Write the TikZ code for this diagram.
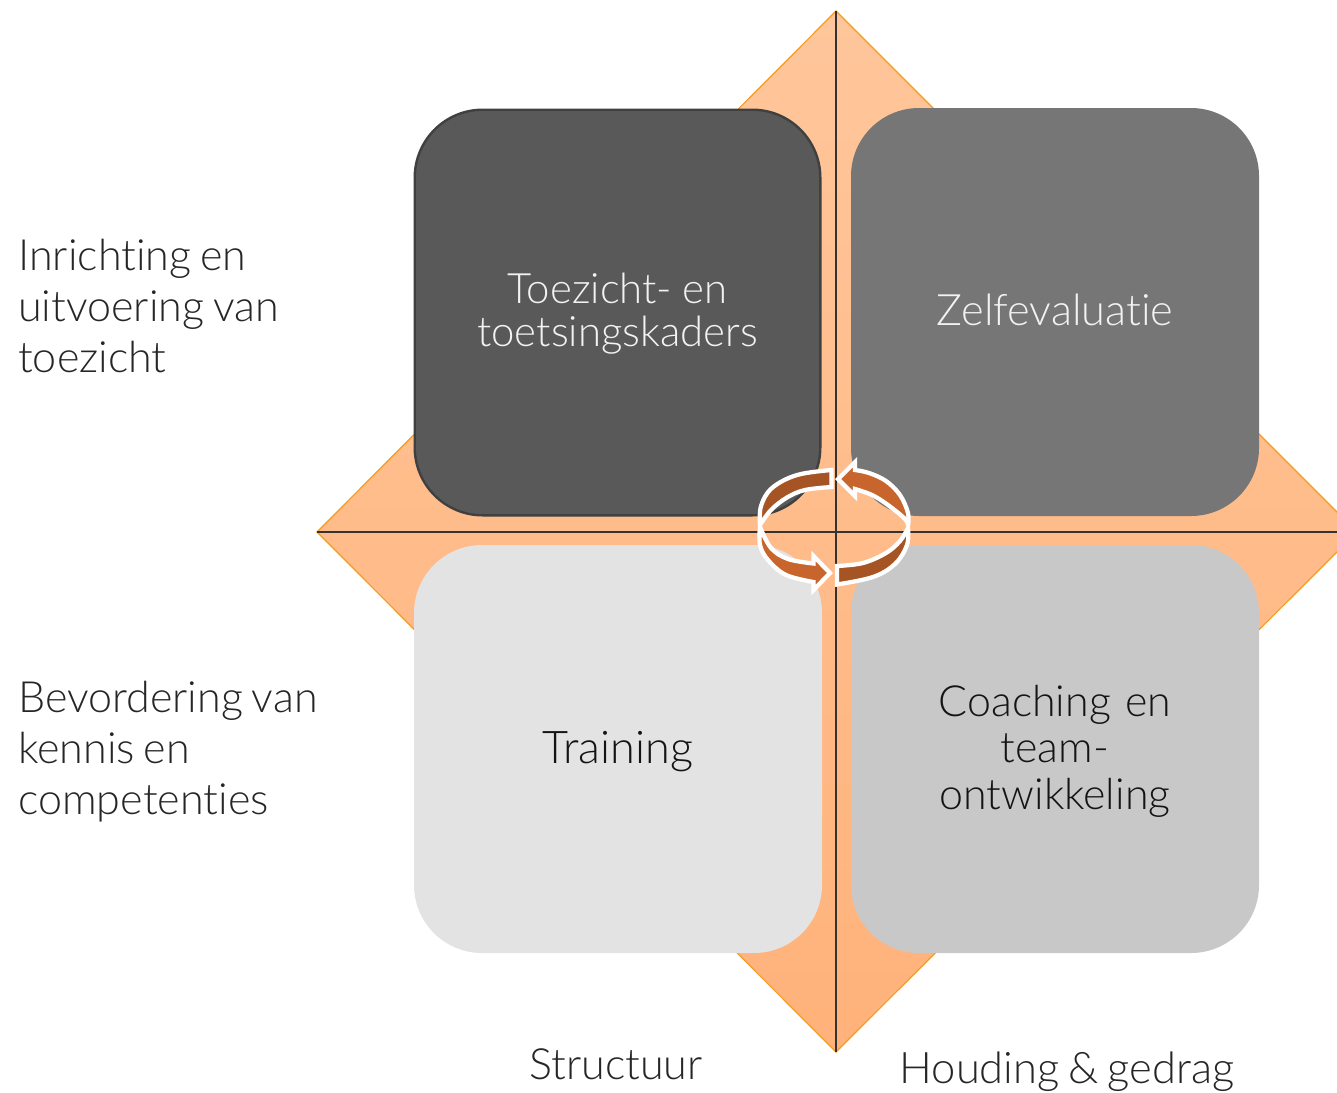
\documentclass[tikz,border=0pt]{standalone}
\usepackage{fontspec}
\setmainfont[Ligatures=NoCommon,WordSpace=0.75]{Lato Light}
\definecolor{axisc}{HTML}{333333}
\definecolor{edgeo}{HTML}{F59B1F}
\definecolor{brownd}{HTML}{A65423}
\definecolor{brownl}{HTML}{C8652D}
\definecolor{dtop}{HTML}{FFC69B}
\definecolor{dbot}{HTML}{FFB27A}
\definecolor{qa}{HTML}{595959}
\definecolor{qaedge}{HTML}{404040}
\definecolor{qb}{HTML}{767676}
\definecolor{qc}{HTML}{E3E3E3}
\definecolor{qd}{HTML}{C8C8C8}
\tikzset{
  x=0.75pt,y=-0.75pt,
  quad/.style={rounded corners=51pt,minimum width=306pt,minimum height=306pt,inner sep=0pt,align=center,text width=290pt},
  lbl/.style={inner sep=0pt,font=\fontsize{32.3}{38.5}\selectfont,text=black!85},
  side/.style={lbl,align=left,anchor=west},
  band/.style={draw=white,line width=3.2pt,line join=miter,miter limit=6},
  curve/.style={smooth,tension=0.6},
}
\begin{document}
\begin{tikzpicture}
\useasboundingbox (0,0) rectangle (1337,1092);
\clip (0,0) rectangle (1337,1092);
\coordinate (top) at (836,11);
\coordinate (lft) at (317,532);
\coordinate (rgt) at (1357,532);
\coordinate (bot) at (836,1052);
\fill[top color=dtop,bottom color=dbot] (top)--(rgt)--(bot)--(lft)--cycle;
\draw[edgeo,line width=0.9pt] (top)--(rgt)--(bot)--(lft)--cycle;
\draw[axisc,line width=1pt] (top)--(bot);
\draw[axisc,line width=1pt] (lft)--(rgt);
\node[quad,minimum width=304.2pt,minimum height=304.2pt,fill=qa,draw=qaedge,line width=1.8pt,text=white!95!black,font=\fontsize{31.4}{32.3}\selectfont] (tl) at (617.5,312.5) {\raisebox{-0.75pt}[\height][\depth]{\parbox{290pt}{\centering Toezicht-\hspace{-3pt} en\\toetsingskaders}}};
\node[quad,fill=qb,text=white!95!black,font=\fontsize{32.5}{35}\selectfont] (tr) at (1055,312) {\raisebox{1.2pt}[\height][\depth]{Zelfevaluatie}};
\node[quad,fill=qc,text=black!92,font=\fontsize{33.8}{36}\selectfont] (bl) at (618,749) {\raisebox{-2.2pt}[\height][\depth]{Training}};
\node[quad,fill=qd,text=black!92,font=\fontsize{32.2}{34.8}\selectfont] (br) at (1055,749) {\raisebox{-1.5pt}[\height][\depth]{\parbox{290pt}{\centering Coaching en\\team-\\ontwikkeling}}};
% circular arrows
\draw[band,fill=brownd] plot[curve] coordinates {(760,525) (761,506) (772,488) (797,475) (831.5,470)} -- plot[curve] coordinates {(831.5,487) (805,490) (787,497.5) (771,510) (760,525)} -- cycle;
\draw[band,fill=brownl] (838,479) -- (855,462) -- (855,470) -- plot[curve] coordinates {(855,470) (869,473) (886,481) (900,495) (908,513) (908,526)} -- plot[curve] coordinates {(908,526) (905,519) (888,505) (872,495) (855,489)} -- (855,496) -- cycle;
\draw[band,fill=brownd] plot[curve] coordinates {(837,584.5) (873,577) (895,564) (907,545) (908,528)} -- plot[curve] coordinates {(908,528) (900,541) (886,553) (863,563) (837,566)} -- cycle;
\draw[band,fill=brownl] (830,573) -- (813.5,556) -- (813.5,563.5) -- plot[curve] coordinates {(813.5,563.5) (788,559) (771,548) (760,527)} -- plot[curve] coordinates {(760,527) (760,545) (768,560) (786,575) (813.5,582)} -- (813.5,590) -- cycle;
% labels
\node[side] (l1) at (18,306) {Inrichting en\\uitvoering van\\toezicht};
\node[side] (l2) at (18,751.5) {Bevordering van\\kennis en\\competenties};
\node[lbl] (l3) at (616,1064) {Structuur};
\node[lbl,font=\fontsize{32.6}{38.5}\selectfont] (l4) at (1067,1072) {Houding \& gedrag};
\end{tikzpicture}
\end{document}
